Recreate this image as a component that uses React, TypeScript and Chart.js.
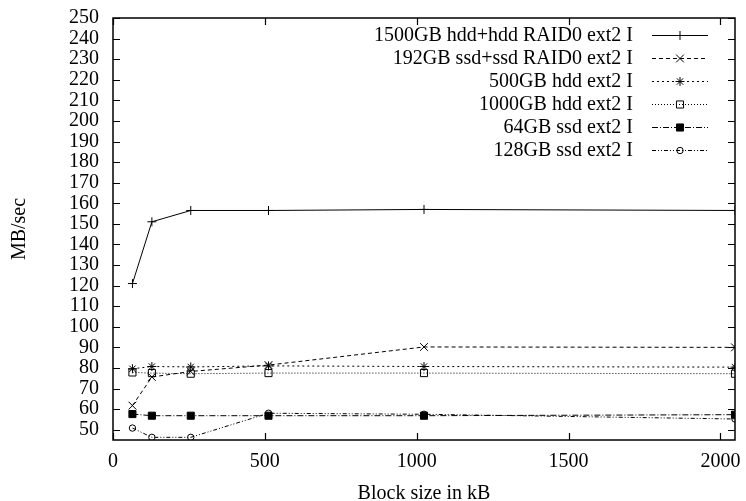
import React, { useEffect, useRef } from "react";
import { Chart, registerables } from "chart.js";

Chart.register(...registerables);

const blockSizes = [64, 128, 256, 512, 1024, 2048];
const seriesNames = [
  "1500GB hdd+hdd RAID0 ext2 I",
  "192GB ssd+ssd RAID0 ext2 I",
  "500GB hdd ext2 I",
  "1000GB hdd ext2 I",
  "64GB ssd ext2 I",
  "128GB ssd ext2 I",
];
const hddRaid = [121, 151, 156.5, 156.5, 157, 156.5];
const ssdRaid = [61.7, 75.6, 78.3, 81.4, 90.2, 90];
const hdd500 = [79.6, 80.7, 80.5, 81, 80.7, 80.4];
const hdd1000 = [77.8, 77.5, 77.2, 77.5, 77.5, 77.2];
const ssd64 = [57.6, 56.8, 56.8, 56.8, 56.8, 57.3];
const ssd128 = [50.8, 46.3, 46.3, 58, 57.5, 55.2];
const yTickValues = [50, 60, 70, 80, 90, 100, 110, 120, 130, 140, 150, 160, 170, 180, 190, 200, 210, 220, 230, 240, 250];
const xTickValues = [0, 500, 1000, 1500, 2000];

const FONT = "'Liberation Serif', 'Times New Roman', serif";

type Style = { dash: number[]; point: string; radius: number; fill: string };
const styles: Style[] = [
  { dash: [], point: "cross", radius: 4.5, fill: "rgba(0,0,0,0)" },
  { dash: [4, 3], point: "crossRot", radius: 5.5, fill: "rgba(0,0,0,0)" },
  { dash: [2, 3], point: "star", radius: 4.5, fill: "rgba(0,0,0,0)" },
  { dash: [1, 2], point: "rect", radius: 5, fill: "rgba(0,0,0,0)" },
  { dash: [6, 2, 1, 2], point: "rect", radius: 5, fill: "#000" },
  { dash: [4, 2, 1, 2, 1, 2], point: "circle", radius: 3.2, fill: "rgba(0,0,0,0)" },
];

function drawMarker(ctx: CanvasRenderingContext2D, s: Style, x: number, y: number) {
  const r = s.radius;
  ctx.save();
  ctx.setLineDash([]);
  ctx.lineWidth = 1;
  ctx.strokeStyle = "#000";
  ctx.fillStyle = s.fill;
  ctx.beginPath();
  if (s.point === "cross" || s.point === "star") {
    ctx.moveTo(x - r, y); ctx.lineTo(x + r, y);
    ctx.moveTo(x, y - r); ctx.lineTo(x, y + r);
  }
  if (s.point === "crossRot" || s.point === "star") {
    const o = Math.SQRT1_2 * r;
    ctx.moveTo(x - o, y - o); ctx.lineTo(x + o, y + o);
    ctx.moveTo(x - o, y + o); ctx.lineTo(x + o, y - o);
  }
  if (s.point === "rect") {
    const h = Math.SQRT1_2 * r;
    ctx.rect(x - h, y - h, 2 * h, 2 * h);
    ctx.fill();
  }
  if (s.point === "circle") {
    ctx.arc(x, y, r, 0, Math.PI * 2);
  }
  ctx.stroke();
  ctx.restore();
}

const framePlugin = {
  id: "frame",
  afterDraw(chart: any) {
    const ctx: CanvasRenderingContext2D = chart.ctx;
    const a = chart.chartArea;
    const xs = chart.scales.x;
    const ys = chart.scales.y;
    const yMin = Number(ys.min), yMax = Number(ys.max);
    const xMin = Number(xs.min), xMax = Number(xs.max);
    const yPix = (v: number) => {
      const p = ys.getPixelForValue(v);
      return Number.isFinite(p) ? p : a.top + ((yMax - v) / (yMax - yMin)) * (a.bottom - a.top);
    };
    const xPix = (v: number) => {
      const p = xs.getPixelForValue(v);
      return Number.isFinite(p) ? p : a.left + ((v - xMin) / (xMax - xMin)) * (a.right - a.left);
    };
    ctx.save();
    ctx.setLineDash([]);
    ctx.strokeStyle = "#000";
    ctx.lineWidth = 1.5;
    ctx.strokeRect(a.left, a.top, a.right - a.left, a.bottom - a.top);
    const tl = 7;
    ctx.lineWidth = 1.2;
    ctx.beginPath();
    for (let i = 0; i < yTickValues.length; i++) {
      const py = Math.round(yPix(yTickValues[i])) + 0.5;
      ctx.moveTo(a.left, py);
      ctx.lineTo(a.left + tl, py);
      ctx.moveTo(a.right, py);
      ctx.lineTo(a.right - tl, py);
    }
    for (let i = 0; i < xTickValues.length; i++) {
      const px = Math.round(xPix(xTickValues[i])) + 0.5;
      ctx.moveTo(px, a.bottom);
      ctx.lineTo(px, a.bottom - tl);
      ctx.moveTo(px, a.top);
      ctx.lineTo(px, a.top + tl);
    }
    ctx.stroke();

    // gnuplot-style key
    ctx.lineWidth = 1;
    ctx.font = `20px ${FONT}`;
    ctx.textAlign = "right";
    ctx.textBaseline = "middle";
    const textRight = 633;
    const lx0 = 652, lx1 = 708;
    seriesNames.forEach((name, i) => {
      const y = a.top + 17 + i * 23;
      ctx.fillStyle = "#000";
      ctx.fillText(name, textRight, y + 1);
      const s = styles[i];
      ctx.beginPath();
      ctx.setLineDash(s.dash);
      ctx.moveTo(lx0, y + 0.5); ctx.lineTo(lx1, y + 0.5);
      ctx.stroke();
      ctx.setLineDash([]);
      drawMarker(ctx, s, (lx0 + lx1) / 2, y + 0.5);
    });
    ctx.restore();
  },
};

export default function App() {
  const ref = useRef<HTMLCanvasElement>(null);
  useEffect(() => {
    Chart.defaults.font.family = FONT;
    Chart.defaults.font.size = 20;
    Chart.defaults.color = "#000";
    const all = [hddRaid, ssdRaid, hdd500, hdd1000, ssd64, ssd128];
    const chart = new Chart(ref.current!, {
      type: "line",
      data: {
        datasets: all.map((vals, i) => ({
          label: seriesNames[i],
          data: blockSizes.map((x, j) => ({ x, y: vals[j] })),
          borderColor: "#000",
          borderWidth: 1,
          borderDash: styles[i].dash,
          pointStyle: styles[i].point as any,
          pointRadius: styles[i].radius,
          pointBorderWidth: 1,
          pointBorderColor: "#000",
          pointBackgroundColor: styles[i].fill,
          fill: false,
          tension: 0,
        })),
      },
      options: {
        animation: false,
        responsive: false,
        layout: { padding: { top: 18, right: 11, left: 0, bottom: 0 } },
        plugins: { legend: { display: false }, tooltip: { enabled: false } },
        scales: {
          x: {
            type: "linear",
            min: 0,
            max: 2048,
            ticks: { padding: 10, maxRotation: 0, autoSkip: false, callback: (v: any) => String(v) },
            grid: { display: false, drawTicks: false },
            border: { display: false },
            title: { display: true, text: "Block size in kB", padding: { top: 0, bottom: -5 } },
            afterBuildTicks: (s: any) => {
              s.ticks = xTickValues.map((v) => ({ value: v }));
            },
            afterFit: (s: any) => {
              s.height = 61;
              s.paddingLeft = 0; s.paddingRight = 0;
            },
          },
          y: {
            type: "linear",
            min: 45,
            max: 250,
            ticks: { padding: 14, autoSkip: false, callback: (v: any) => String(v) },
            grid: { display: false, drawTicks: false },
            border: { display: false },
            title: { display: true, text: "MB/sec", padding: { top: 8, bottom: 0 } },
            afterBuildTicks: (s: any) => {
              s.ticks = yTickValues.map((v) => ({ value: v }));
            },
            afterFit: (s: any) => {
              s.width = 113;
              s.paddingTop = 0; s.paddingBottom = 0;
            },
          },
        },
      },
      plugins: [framePlugin],
    });
    return () => chart.destroy();
  }, []);
  return (
    <div style={{ position: "fixed", left: 0, top: 0, width: 746, height: 501, background: "#fff" }}>
      <canvas ref={ref} width={746} height={501} />
    </div>
  );
}
